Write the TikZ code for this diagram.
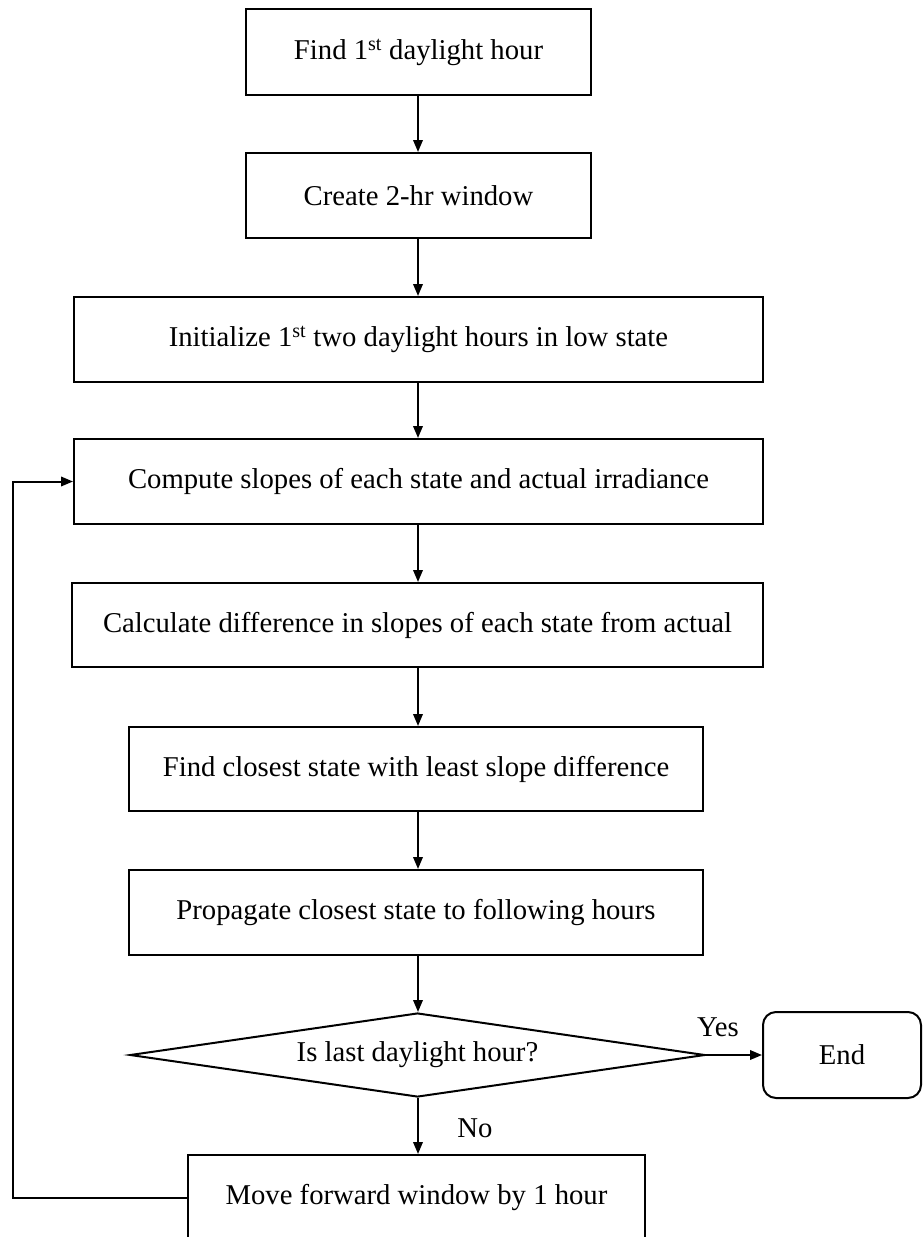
\documentclass[tikz,border=0pt]{standalone}
\usepackage{fontspec}
\setmainfont{Liberation Serif}
\usetikzlibrary{shapes.geometric,arrows.meta}
\begin{document}
\begin{tikzpicture}[x=1pt,y=-1pt,
  font=\fontsize{28.7}{34}\selectfont,
  every node/.style={line width=2pt},
  procbox/.style={draw, rectangle, inner sep=0pt, align=center},
  decision/.style={draw, diamond, inner sep=0pt, aspect=6.85,
    minimum width=575pt, minimum height=84pt},
  terminal/.style={draw, rectangle, rounded corners=13pt, inner sep=0pt,
    minimum width=158pt, minimum height=86pt},
  flow/.style={line width=2pt, -{Triangle[length=12pt,width=9.5pt]}},
  link/.style={line width=2pt}
]
\useasboundingbox (0,0) rectangle (922,1237);

\node[procbox, minimum width=345pt, minimum height=86pt] (b1) at (418.5,52)
  {Find 1\textsuperscript{st} daylight hour};
\node[procbox, minimum width=345pt, minimum height=85pt] (b2) at (418.5,195.5)
  {Create 2-hr window};
\node[procbox, minimum width=689pt, minimum height=85pt] (b3) at (418.5,339.5)
  {Initialize 1\textsuperscript{st} two daylight hours in low state};
\node[procbox, minimum width=689pt, minimum height=85pt] (b4) at (418.5,481.5)
  {Compute slopes of each state and actual irradiance};
\node[procbox, minimum width=691pt, minimum height=84pt] (b5) at (417.5,625)
  {Calculate difference in slopes of each state from actual};
\node[procbox, minimum width=574pt, minimum height=84pt] (b6) at (416,769)
  {Find closest state with least slope difference};
\node[procbox, minimum width=574pt, minimum height=85pt] (b7) at (416,912.5)
  {Propagate closest state to following hours};
\node[decision] (d) at (417.5,1055) {Is last daylight hour?};
\node[terminal] (end) at (842,1055) {End};
\node[procbox, minimum width=457pt, minimum height=85pt] (b8) at (416.5,1197.5)
  {Move forward window by 1 hour};

\coordinate (ax) at (418,0);
\coordinate (loop) at (13,0);

\draw[flow] (b1.south -| ax) -- (b2.north -| ax);
\draw[flow] (b2.south -| ax) -- (b3.north -| ax);
\draw[flow] (b3.south -| ax) -- (b4.north -| ax);
\draw[flow] (b4.south -| ax) -- (b5.north -| ax);
\draw[flow] (b5.south -| ax) -- (b6.north -| ax);
\draw[flow] (b6.south -| ax) -- (b7.north -| ax);
\draw[flow] (b7.south -| ax) -- (d.north -| ax);
\draw[flow] (d.south -| ax) -- (b8.north -| ax);
\draw[flow] (d.east) -- (end.west);
\draw[flow] (b8.west) -- (b8.west -| loop) |- (b4.west);

\node (yes) at (718,1027) {Yes};
\node (no) at (475,1128) {No};
\end{tikzpicture}
\end{document}
